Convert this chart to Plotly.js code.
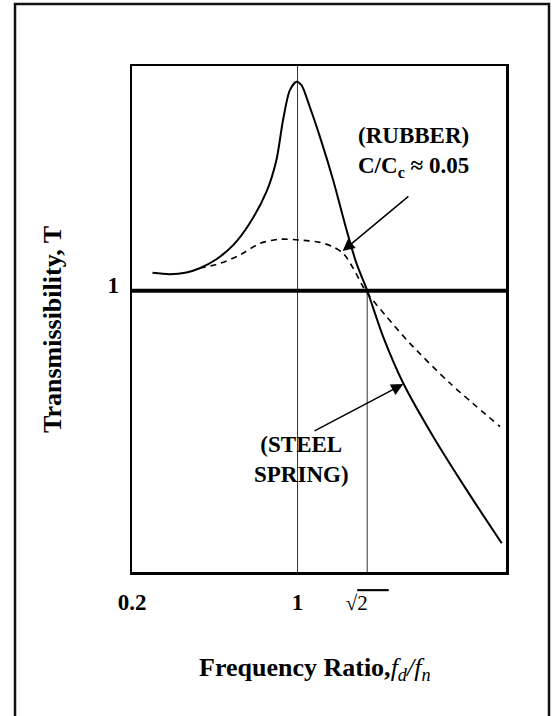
<!DOCTYPE html>
<html>
<head>
<meta charset="utf-8">
<script src="https://cdn.plot.ly/plotly-3.0.1.min.js"></script>
<style>html,body{margin:0;padding:0;background:#fff;}#chart{width:556px;height:716px;}</style>
</head>
<body>
<div id="chart"></div>
<script>
// Schematic frequency-ratio positions (x) and transmissibility (y)
const steelX = [0.299, 0.382, 0.463, 0.527, 0.608, 0.689, 0.769, 0.850, 0.898, 0.930, 0.963, 0.995, 1.019, 1.059, 1.108, 1.172, 1.237, 1.285, 1.337, 1.414, 1.511, 1.656, 1.817, 1.987];
const steelY = [1.064, 1.059, 1.065, 1.080, 1.112, 1.162, 1.240, 1.352, 1.465, 1.607, 1.713, 1.743, 1.731, 1.654, 1.548, 1.394, 1.216, 1.097, 1.000, 0.836, 0.671, 0.481, 0.292, 0.102];

const rubberX = [0.527, 0.624, 0.721, 0.818, 0.914, 1.011, 1.108, 1.172, 1.221, 1.269, 1.317, 1.350, 1.430, 1.543, 1.737, 1.979];
const rubberY = [1.080, 1.097, 1.127, 1.168, 1.183, 1.180, 1.172, 1.156, 1.133, 1.080, 1.014, 0.979, 0.908, 0.813, 0.671, 0.517];

const xTickVals = [0.2, 1, 1.3366];
const xTickText = ['0.2', '1', '<span style="font-weight:normal;font-size:21px">√<span style="text-decoration:overline">2\u00a0\u00a0\u00a0\u00a0</span></span>'];
const yTickVals = [1];
const yTickText = ['1'];

const xRange = [0.2, 2.0075];
const yRange = [0, 1.799];

const serif = "'Liberation Serif', 'Times New Roman', Times, serif";

const traces = [
  {x: steelX, y: steelY, type: 'scatter', mode: 'lines', name: 'Steel spring',
   line: {color: '#000', width: 2, shape: 'spline', smoothing: 0.8}, hoverinfo: 'skip'},
  {x: rubberX, y: rubberY, type: 'scatter', mode: 'lines', name: 'Rubber',
   line: {color: '#000', width: 1.6, dash: '6px,5px', shape: 'spline', smoothing: 0.8}, hoverinfo: 'skip'}
];

const layout = {
  width: 556, height: 716,
  margin: {l: 132, r: 50, t: 66, b: 144, pad: 0},
  paper_bgcolor: '#fff', plot_bgcolor: '#fff',
  showlegend: false,
  font: {family: serif, color: '#000'},
  xaxis: {
    range: xRange, showgrid: false, zeroline: false,
    showline: true, mirror: true, linecolor: '#000', linewidth: 2.5,
    ticks: '', tickvals: xTickVals, ticktext: xTickText,
    tickfont: {family: serif, size: 23, color: '#000', weight: 'bold'},
    ticklabelstandoff: 8
  },
  yaxis: {
    range: yRange, showgrid: false, zeroline: false,
    showline: true, mirror: true, linecolor: '#000', linewidth: 2.5,
    ticks: '', tickvals: yTickVals, ticktext: yTickText,
    tickfont: {family: serif, size: 23, color: '#000', weight: 'bold'},
    ticklabelstandoff: 6, ticklabelshift: -6
  },
  shapes: [
    // outer frame
    {type: 'rect', xref: 'paper', yref: 'paper', x0: -0.3128, x1: 1.115, y0: -0.30, y1: 1.1225,
     line: {color: '#111', width: 2.5}, fillcolor: 'rgba(0,0,0,0)', layer: 'below'},
    // vertical line at f = 1
    {type: 'line', xref: 'x', yref: 'y', x0: 1, x1: 1, y0: yRange[0], y1: yRange[1],
     line: {color: '#333', width: 1}, layer: 'below'},
    // vertical line at sqrt(2), from T = 1 down
    {type: 'line', xref: 'x', yref: 'y', x0: xTickVals[2], x1: xTickVals[2], y0: yRange[0], y1: 1,
     line: {color: '#333', width: 1}, layer: 'below'},
    // T = 1 line
    {type: 'line', xref: 'x', yref: 'y', x0: xRange[0], x1: xRange[1], y0: 1, y1: 1,
     line: {color: '#000', width: 4}, layer: 'below'}
  ],
  annotations: [
    {xref: 'x', yref: 'y', x: 1.559, y: 1.493, showarrow: false,
     text: '(RUBBER)<br>C/C<sub>c</sub> ≈ 0.05',
     font: {family: serif, size: 23, color: '#000', weight: 'bold'}, align: 'center'},
    {xref: 'x', yref: 'y', x: 1.021, y: 0.399, showarrow: false,
     text: '(STEEL<br>SPRING)',
     font: {family: serif, size: 23, color: '#000', weight: 'bold'}, align: 'center'},
    {xref: 'x', yref: 'y', x: 1.218, y: 1.141, axref: 'x', ayref: 'y', ax: 1.543, ay: 1.340,
     text: '', showarrow: true, arrowhead: 2, arrowsize: 1.6, arrowwidth: 1.5, arrowcolor: '#000', standoff: 0},
    {xref: 'x', yref: 'y', x: 1.511, y: 0.668, axref: 'x', ayref: 'y', ax: 1.075, ay: 0.499,
     text: '', showarrow: true, arrowhead: 2, arrowsize: 1.6, arrowwidth: 1.5, arrowcolor: '#000', standoff: 0},
    // axis titles
    {xref: 'paper', yref: 'paper', x: (315 - 132) / 374, y: (572 - 669) / 506, showarrow: false,
     text: '<b>Frequency Ratio,</b><i>f<sub>d</sub>/f<sub>n</sub></i>',
     font: {family: serif, size: 26, color: '#000'}, xanchor: 'center', yanchor: 'middle'},
    {xref: 'paper', yref: 'paper', x: (52 - 132) / 374, y: (572 - 330) / 506, showarrow: false,
     text: '<b>Transmissibility, T</b>', textangle: -90,
     font: {family: serif, size: 26, color: '#000'}, xanchor: 'center', yanchor: 'middle'}
  ]
};

Plotly.newPlot('chart', traces, layout, {staticPlot: true, displayModeBar: false});
</script>
</body>
</html>
